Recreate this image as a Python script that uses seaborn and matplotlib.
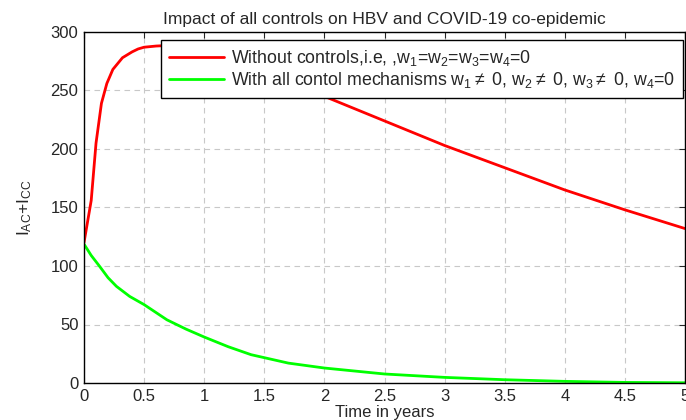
import numpy as np
import pandas as pd
import matplotlib
matplotlib.use("Agg")
import matplotlib.pyplot as plt
import seaborn as sns

# values
t_red = [0, 0.03, 0.06, 0.1, 0.145, 0.19, 0.24, 0.32, 0.4, 0.45, 0.5, 0.6, 0.7, 0.8,
         1.0, 1.25, 1.5, 1.75, 2.0, 2.5, 3.0, 3.5, 4.0, 4.5, 5.0]
i_red = [120, 138, 156, 205, 239, 256, 268, 278, 283, 285.5, 287, 288, 288.5, 288,
         284, 276, 266, 256, 245, 224, 203, 184, 165, 148, 132]

t_green = [0, 0.06, 0.13, 0.2, 0.27, 0.38, 0.5, 0.69, 0.85, 1.0, 1.2, 1.39, 1.7,
           2.0, 2.5, 3.0, 3.5, 4.0, 4.5, 5.0]
i_green = [118.7, 109, 99.7, 90, 82.6, 74, 67, 54, 46, 39.3, 31, 24.2, 17,
           12.8, 7.7, 4.8, 2.8, 1.4, 0.5, 0.2]

x_ticks = ["0", "0.5", "1", "1.5", "2", "2.5", "3", "3.5", "4", "4.5", "5"]

lab_red = r"Without controls,i.e, ,w$_1$=w$_2$=w$_3$=w$_4$=0"
lab_green = r"With all contol mechanisms w$_1$$\neq$ 0, w$_2$$\neq$ 0, w$_3$$\neq$ 0, w$_4$=0"

sns.set_style("white")
plt.rcParams['font.family'] = ['Liberation Sans', 'DejaVu Sans']
plt.rcParams['mathtext.fontset'] = 'custom'
plt.rcParams['mathtext.rm'] = 'Liberation Sans'
plt.rcParams['mathtext.it'] = 'Liberation Sans'
plt.rcParams['mathtext.default'] = 'regular'

df_red = pd.DataFrame({"t": t_red, "I": i_red})
df_green = pd.DataFrame({"t": t_green, "I": i_green})

fig = plt.figure(figsize=(6.86, 4.2), dpi=100)
ax = fig.add_axes([84 / 686, 1 - 383 / 420, 601 / 686, 351 / 420])

sns.lineplot(data=df_red, x="t", y="I", color="#ff0000", lw=2, label=lab_red, ax=ax)
sns.lineplot(data=df_green, x="t", y="I", color="#00ff00", lw=2, label=lab_green, ax=ax)

ax.set_xlim(0, 5)
ax.set_ylim(0, 300)
ax.set_xticks(np.arange(0, 5.01, 0.5))
ax.set_xticklabels(x_ticks)
ax.set_yticks(np.arange(0, 301, 50))
ax.grid(True, color="#c8c8c8", linestyle=(0, (5, 4)), lw=0.8)
ax.tick_params(direction="in", top=True, right=True, length=4, labelsize=12, pad=4)
for s in ax.spines.values():
    s.set_color("black")
    s.set_linewidth(1)

ax.set_title("Impact of all controls on HBV and COVID-19 co-epidemic", fontsize=12.5, pad=6)
ax.set_xlabel("Time in years", fontsize=12, labelpad=1)
ax.set_ylabel(r"I$_{AC}$+I$_{CC}$", fontsize=12.5, labelpad=12)

leg = ax.legend(loc="upper right", bbox_to_anchor=(0.997, 0.977), borderaxespad=0,
                fontsize=12.8, frameon=True, fancybox=False, edgecolor="black",
                framealpha=1, handlelength=3.1, handletextpad=0.4, borderpad=0.45,
                labelspacing=0.12)
leg.get_frame().set_linewidth(1)

fig.savefig("out.png", dpi=100)
